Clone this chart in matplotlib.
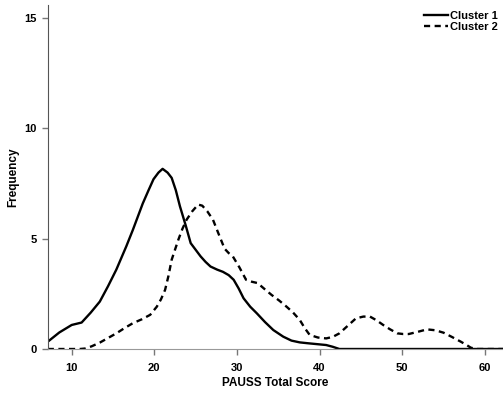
import matplotlib.pyplot as plt

# Values (PAUSS total score vs. frequency)
cluster1_x = [7.1, 8.5, 10.0, 11.2, 12.3, 13.4, 14.4, 15.4, 16.6, 17.4, 18.0, 18.6, 19.3, 19.9,
              20.5, 21.0, 21.6, 22.1, 22.6, 23.1, 23.8, 24.4, 25.0, 25.6, 26.2, 26.8, 27.6,
              28.3, 29.0, 29.6, 30.2, 30.8, 31.6, 32.4, 33.4, 34.4, 35.6, 36.6, 37.6, 38.6,
              39.7, 40.8, 41.6, 42.4, 45.0, 50.0, 55.0, 60.0, 62.5]
cluster1_y = [0.33, 0.75, 1.09, 1.2, 1.65, 2.15, 2.85, 3.6, 4.65, 5.4, 6.0, 6.6, 7.2, 7.7,
              8.0, 8.17, 8.0, 7.76, 7.2, 6.47, 5.6, 4.8, 4.5, 4.2, 3.95, 3.74, 3.6,
              3.5, 3.35, 3.14, 2.75, 2.3, 1.92, 1.62, 1.22, 0.86, 0.56, 0.38, 0.3, 0.26,
              0.22, 0.18, 0.1, 0.0, 0.0, 0.0, 0.0, 0.0, 0.0]

cluster2_x = [7.1, 9.0, 11.0, 11.6, 12.4, 13.4, 14.4, 15.4, 16.4, 17.4, 18.5, 19.5, 20.3,
              20.8, 21.3, 21.7, 22.1, 22.5, 22.9, 23.4, 23.9, 24.6, 25.3, 25.8, 26.4, 27.1,
              27.8, 28.5, 29.0, 29.5, 30.3, 31.1, 31.8, 32.5, 33.4, 34.2, 35.1, 36.0, 36.8,
              37.6, 38.2, 38.8, 39.8, 40.8, 41.6, 42.4, 43.4, 44.4, 45.3, 46.1, 46.9, 47.7,
              48.5, 49.4, 50.1, 50.8, 51.9, 53.0, 54.0, 55.0, 56.0, 57.1, 57.8, 58.3, 59.0,
              60.0, 62.5]
cluster2_y = [0.0, 0.0, 0.0, 0.02, 0.12, 0.29, 0.5, 0.71, 0.95, 1.17, 1.35, 1.55, 1.92,
              2.25, 2.68, 3.3, 4.05, 4.5, 4.95, 5.45, 5.86, 6.25, 6.55, 6.5, 6.25, 5.86,
              5.2, 4.55, 4.35, 4.2, 3.7, 3.14, 3.05, 2.99, 2.7, 2.45, 2.2, 1.92, 1.65,
              1.32, 0.95, 0.64, 0.52, 0.48, 0.55, 0.71, 1.05, 1.39, 1.47, 1.47, 1.3, 1.09,
              0.9, 0.71, 0.68, 0.68, 0.78, 0.89, 0.85, 0.74, 0.55, 0.33, 0.18, 0.06, 0.0,
              0.0, 0.0]

x_ticks = [10, 20, 30, 40, 50, 60]
y_ticks = [0, 5, 10, 15]

plt.rcParams['font.family'] = ['Liberation Sans', 'DejaVu Sans']
plt.rcParams['font.weight'] = 'bold'

fig = plt.figure(figsize=(5.03, 3.98), dpi=100)
ax = fig.add_axes([48 / 503, 1 - 349 / 398, 1 - 48 / 503, (349 - 5) / 398])

ax.plot(cluster1_x, cluster1_y, color='black', linewidth=1.7, label='Cluster 1')
ax.plot(cluster2_x, cluster2_y, color='black', linewidth=1.7, linestyle=(0, (2.6, 1.9)),
        label='Cluster 2')

ax.set_xlim(7.13, 62.2)
ax.set_ylim(0, 15.6)
ax.set_xticks(x_ticks)
ax.set_yticks(y_ticks)
ax.tick_params(axis='both', labelsize=8, length=4, width=1, colors='#777777',
               labelcolor='black', pad=4)
ax.tick_params(axis='x', pad=6)
for lab in ax.get_xticklabels() + ax.get_yticklabels():
    lab.set_fontweight('bold')

ax.spines['top'].set_visible(False)
ax.spines['right'].set_visible(False)
ax.spines['left'].set_color('#555555')
ax.spines['bottom'].set_color('#999999')

ax.set_xlabel('PAUSS Total Score', fontsize=8.5, fontweight='bold', labelpad=3)
ax.set_ylabel('Frequency', fontsize=8.5, fontweight='bold', labelpad=4)

leg = ax.legend(loc='upper right', bbox_to_anchor=(1.0, 1.0), frameon=False,
                fontsize=8, handlelength=2.2, handletextpad=0.1, labelspacing=0.15,
                borderaxespad=0.1)
for t in leg.get_texts():
    t.set_fontweight('bold')

fig.savefig('out.png', dpi=100)
